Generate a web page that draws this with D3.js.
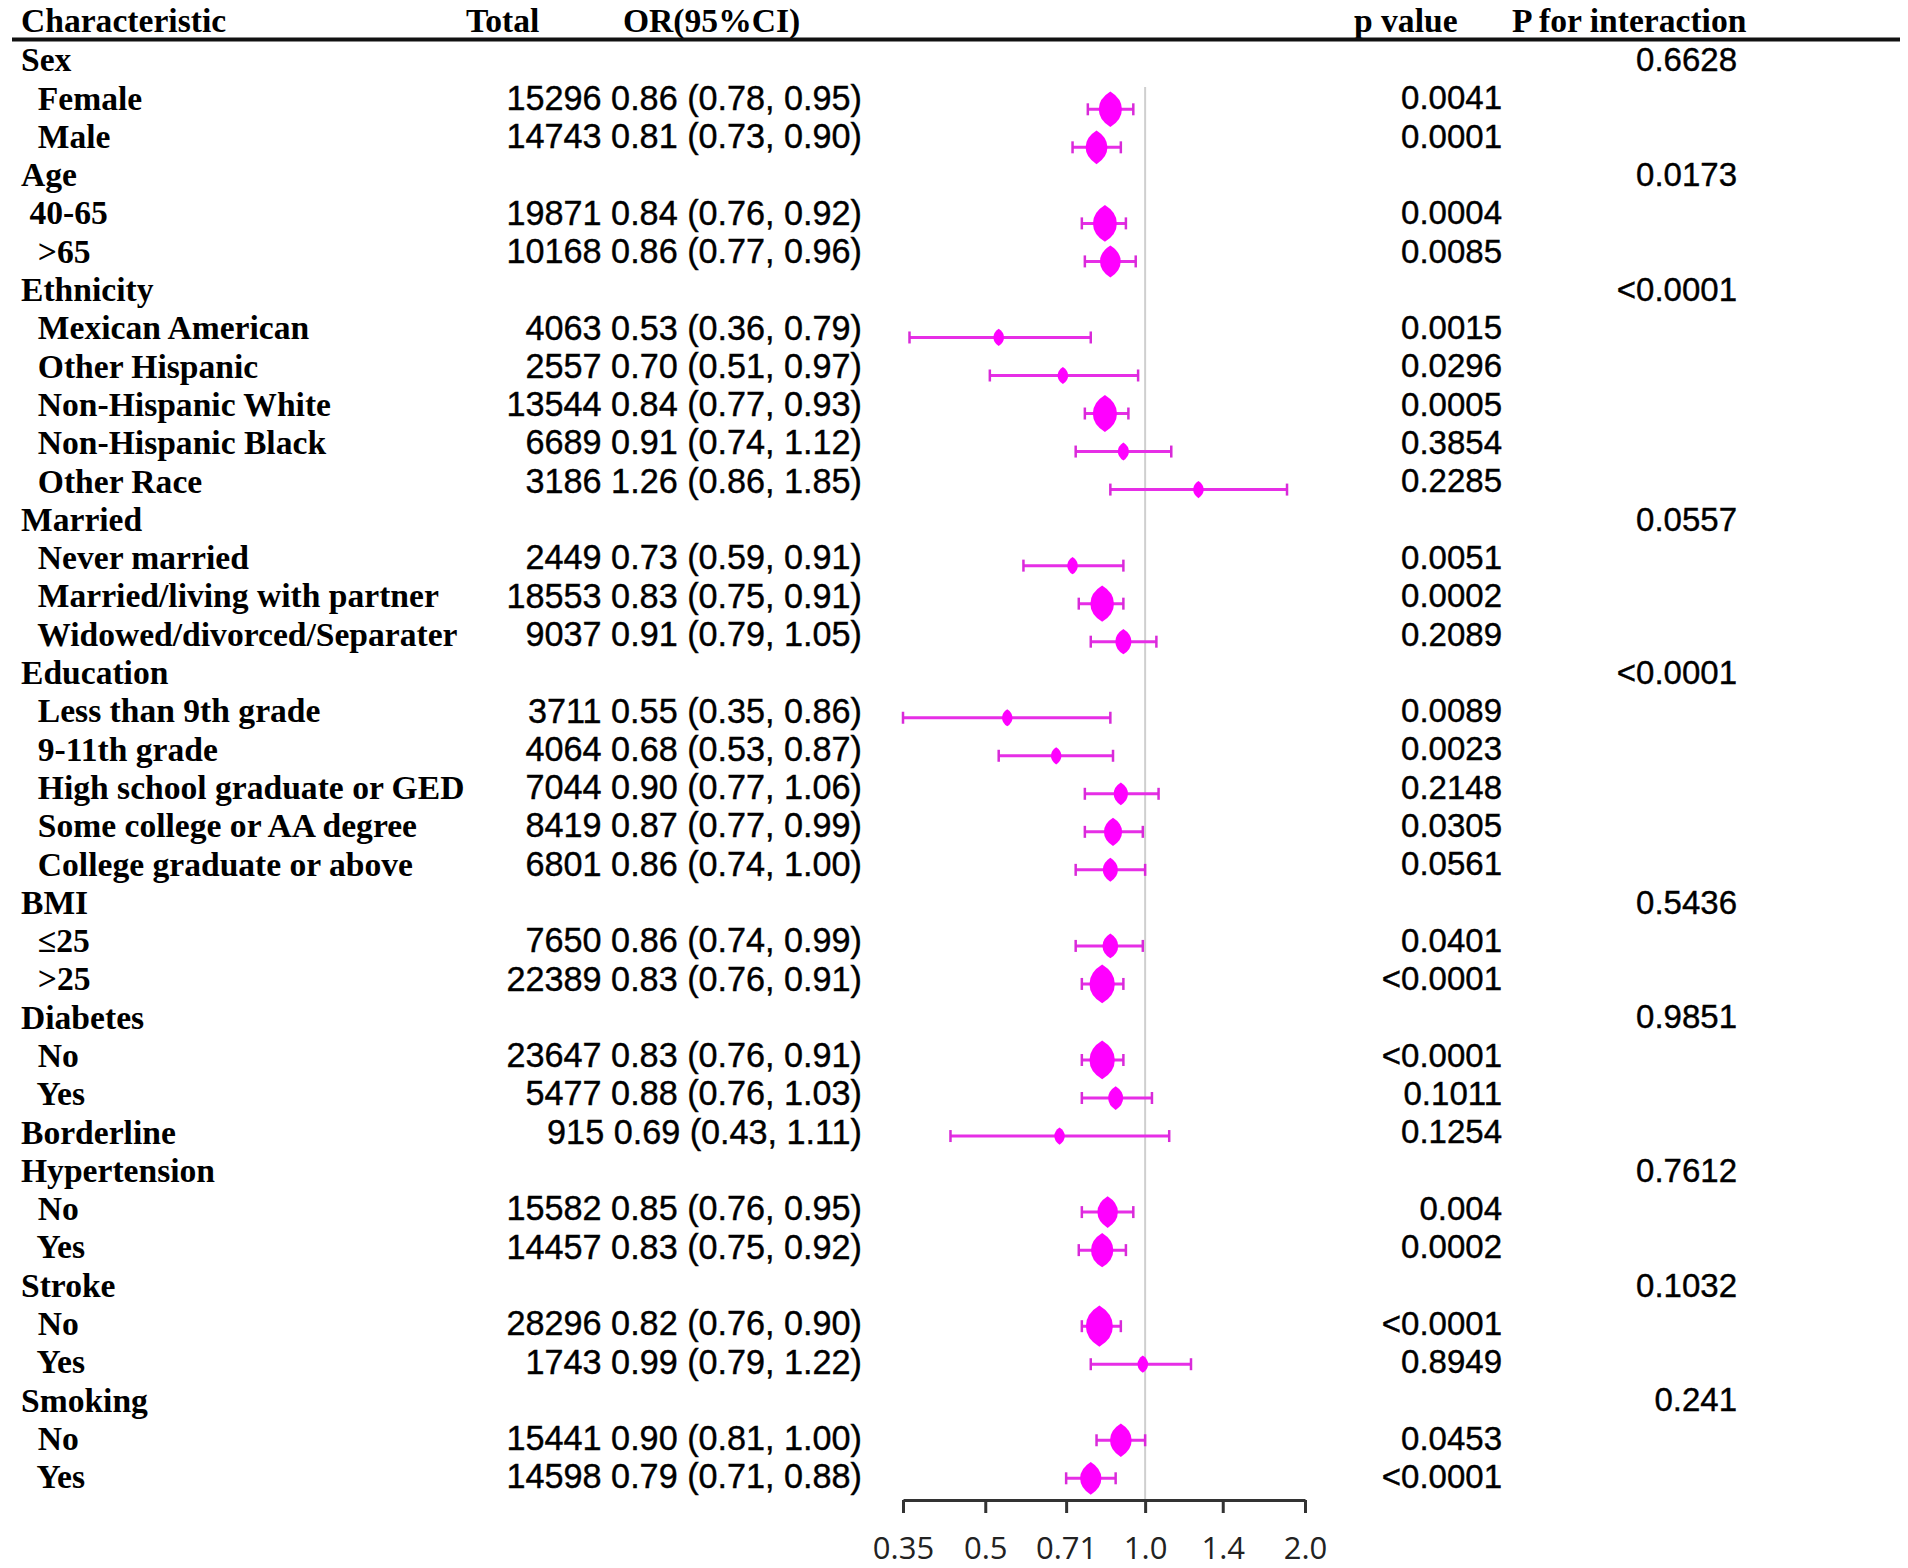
<!DOCTYPE html>
<html lang="en">
<head>
  <meta charset="UTF-8" />
  <title>Subgroup forest plot</title>
  <script src="https://d3js.org/d3.v7.min.js"></script>
  <style>
    body { margin: 0; background: #fff; }
    svg { display: block; }
    .lbl, .head { font-family: "Liberation Serif", "Times New Roman", serif; font-weight: bold; font-size: 33.6px; fill: #000; white-space: pre; }
    .num { font-family: "Liberation Sans", Arial, sans-serif; font-size: 33px; fill: #000; stroke: #000; stroke-width: 0.4px; }
    .orci { font-size: 34.2px; }
    .axis text { font-family: "Open Sans", "Liberation Sans", sans-serif; font-size: 31px; fill: #222; }
  </style>
</head>
<body>
<div id="chart"></div>
<script>
  const width = 1908, height = 1568;

  // rows of the table, leading spaces = indent as in the original
  const labels = ["Sex", "  Female", "  Male", "Age", " 40-65", "  >65",
    "Ethnicity", "  Mexican American", "  Other Hispanic", "  Non-Hispanic White", "  Non-Hispanic Black", "  Other Race",
    "Married", "  Never married", "  Married/living with partner", "  Widowed/divorced/Separater",
    "Education", "  Less than 9th grade", "  9-11th grade", "  High school graduate or GED", "  Some college or AA degree", "  College graduate or above",
    "BMI", "  \u226425", "  >25", "Diabetes", "  No", "  Yes", "Borderline",
    "Hypertension", "  No", "  Yes", "Stroke", "  No", "  Yes", "Smoking", "  No", "  Yes"];
  const totals = [null, 15296, 14743, null, 19871, 10168, null, 4063, 2557, 13544, 6689, 3186,
    null, 2449, 18553, 9037, null, 3711, 4064, 7044, 8419, 6801, null, 7650, 22389,
    null, 23647, 5477, 915, null, 15582, 14457, null, 28296, 1743, null, 15441, 14598];
  const oddsRatio = [null, 0.86, 0.81, null, 0.84, 0.86, null, 0.53, 0.70, 0.84, 0.91, 1.26,
    null, 0.73, 0.83, 0.91, null, 0.55, 0.68, 0.90, 0.87, 0.86, null, 0.86, 0.83,
    null, 0.83, 0.88, 0.69, null, 0.85, 0.83, null, 0.82, 0.99, null, 0.90, 0.79];
  const ciLower = [null, 0.78, 0.73, null, 0.76, 0.77, null, 0.36, 0.51, 0.77, 0.74, 0.86,
    null, 0.59, 0.75, 0.79, null, 0.35, 0.53, 0.77, 0.77, 0.74, null, 0.74, 0.76,
    null, 0.76, 0.76, 0.43, null, 0.76, 0.75, null, 0.76, 0.79, null, 0.81, 0.71];
  const ciUpper = [null, 0.95, 0.90, null, 0.92, 0.96, null, 0.79, 0.97, 0.93, 1.12, 1.85,
    null, 0.91, 0.91, 1.05, null, 0.86, 0.87, 1.06, 0.99, 1.00, null, 0.99, 0.91,
    null, 0.91, 1.03, 1.11, null, 0.95, 0.92, null, 0.90, 1.22, null, 1.00, 0.88];
  const pValues = ["", "0.0041", "0.0001", "", "0.0004", "0.0085", "", "0.0015", "0.0296", "0.0005", "0.3854", "0.2285",
    "", "0.0051", "0.0002", "0.2089", "", "0.0089", "0.0023", "0.2148", "0.0305", "0.0561", "", "0.0401", "<0.0001",
    "", "<0.0001", "0.1011", "0.1254", "", "0.004", "0.0002", "", "<0.0001", "0.8949", "", "0.0453", "<0.0001"];
  const pInteraction = ["0.6628", "", "", "0.0173", "", "", "<0.0001", "", "", "", "", "",
    "0.0557", "", "", "", "<0.0001", "", "", "", "", "", "0.5436", "", "",
    "0.9851", "", "", "", "0.7612", "", "", "0.1032", "", "", "0.241", "", ""];
  const headers = ["Characteristic", "Total", "OR(95%CI)", "p value", "P for interaction"];
  const tickValues = [0.35, 0.5, 0.71, 1.0, 1.4, 2.0];
  const tickLabels = ["0.35", "0.5", "0.71", "1.0", "1.4", "2.0"];

  const svg = d3.select('#chart').append('svg')
    .attr('width', width).attr('height', height)
    .attr('viewBox', `0 0 ${width} ${height}`);

  // scales
  const x = d3.scaleLog().domain([0.35, 2.0]).range([903, 1305]);
  const textY = d3.scaleLinear().domain([0, labels.length - 1]).range([59.5, 1476.5]);
  const markY = d3.scaleLinear().domain([1, labels.length - 1]).range([109.3, 1478.3]);

  const rows = labels.map((l, i) => ({
    i, label: l, n: totals[i], or: oddsRatio[i], lo: ciLower[i], hi: ciUpper[i],
    p: pValues[i], pint: pInteraction[i]
  }));
  const est = rows.filter(d => d.or != null);

  // header
  const headX = [21, 466, 623, 1354, 1512];
  svg.selectAll('text.head').data(headers).join('text')
    .attr('class', 'head')
    .attr('x', (d, i) => headX[i]).attr('y', 20).attr('dy', '0.35em')
    .text(d => d);
  svg.append('line')
    .attr('x1', 12).attr('x2', 1900).attr('y1', 39.5).attr('y2', 39.5)
    .attr('stroke', '#111').attr('stroke-width', 4);

  // table text
  svg.selectAll('text.lbl').data(rows).join('text')
    .attr('class', 'lbl')
    .attr('x', 21).attr('y', d => textY(d.i)).attr('dy', '0.35em')
    .text(d => d.label);

  svg.selectAll('text.orci').data(est).join('text')
    .attr('class', 'num orci')
    .attr('x', 862).attr('y', d => textY(d.i)).attr('dy', '0.35em')
    .attr('text-anchor', 'end')
    .text(d => `${d.n} ${d.or.toFixed(2)} (${d.lo.toFixed(2)}, ${d.hi.toFixed(2)})`);

  svg.selectAll('text.pv').data(rows.filter(d => d.p)).join('text')
    .attr('class', 'num pv')
    .attr('x', 1502).attr('y', d => textY(d.i)).attr('dy', '0.35em')
    .attr('text-anchor', 'end')
    .text(d => d.p);

  svg.selectAll('text.pint').data(rows.filter(d => d.pint)).join('text')
    .attr('class', 'num pint')
    .attr('x', 1737).attr('y', d => textY(d.i)).attr('dy', '0.35em')
    .attr('text-anchor', 'end')
    .text(d => d.pint);

  // reference line at OR = 1
  svg.append('line')
    .attr('x1', x(1)).attr('x2', x(1)).attr('y1', 87).attr('y2', 1499)
    .attr('stroke', '#cfcfcf').attr('stroke-width', 2);

  // x axis
  const axis = svg.append('g').attr('class', 'axis')
    .attr('transform', 'translate(0,1500)')
    .call(d3.axisBottom(x).tickValues(tickValues)
      .tickFormat((d, i) => tickLabels[i])
      .tickSize(13).tickSizeOuter(0).tickPadding(24));
  axis.select('.domain').attr('stroke', '#333').attr('stroke-width', 3);
  axis.selectAll('.tick line').attr('stroke', '#333').attr('stroke-width', 3);

  // marker size from inverse variance of the CI
  const weight = d => 1 / Math.pow(Math.log(d.hi / d.lo), 2);
  const size = d3.scaleSqrt().domain([0, d3.max(est, weight)]).range([0, 27]);

  const bars = svg.append('g');
  bars.selectAll('line.ci').data(est).join('line')
    .attr('x1', d => x(d.lo)).attr('x2', d => x(d.hi))
    .attr('y1', d => markY(d.i)).attr('y2', d => markY(d.i))
    .attr('stroke', '#e62ee6').attr('stroke-width', 3);
  ['lo', 'hi'].forEach(k => {
    bars.selectAll('line.cap-' + k).data(est).join('line')
      .attr('class', 'cap-' + k)
      .attr('x1', d => x(d[k])).attr('x2', d => x(d[k]))
      .attr('y1', d => markY(d.i) - 6).attr('y2', d => markY(d.i) + 6)
      .attr('stroke', '#d92ad9').attr('stroke-width', 2.5);
  });

  bars.selectAll('path.mark').data(est).join('path')
    .attr('class', 'mark')
    .attr('transform', d => `translate(${x(d.or)},${markY(d.i)})`)
    .attr('d', d => {
      const w = Math.max(10.5, size(weight(d)));
      const a = w / 2, b = (w * 1.45 + 2) / 2;
      return `M0,${-b}Q${a},${-b * 0.6} ${a},0Q${a},${b * 0.6} 0,${b}` +
             `Q${-a},${b * 0.6} ${-a},0Q${-a},${-b * 0.6} 0,${-b}Z`;
    })
    .attr('fill', '#ff00ff');
</script>
</body>
</html>
